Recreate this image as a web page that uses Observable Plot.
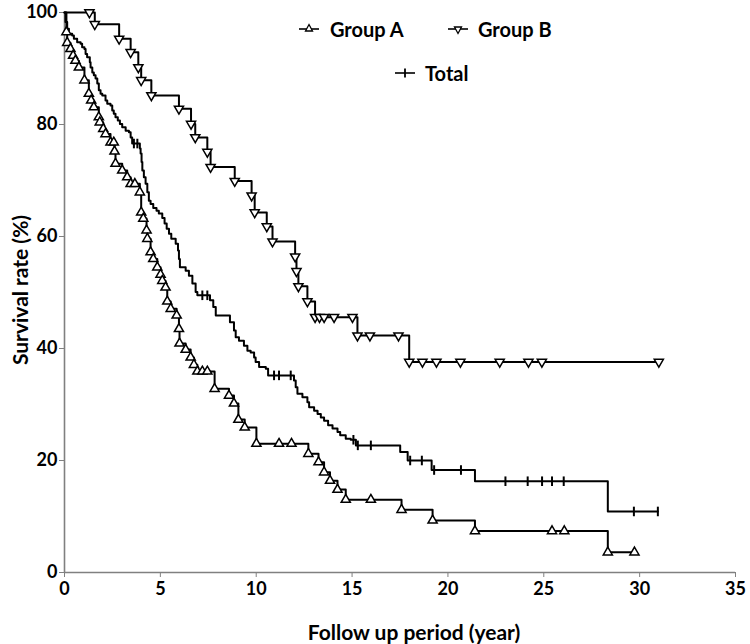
<!DOCTYPE html>
<html>
<head>
<meta charset="utf-8">
<script src="https://cdn.jsdelivr.net/npm/d3@7"></script>
<script src="https://cdn.jsdelivr.net/npm/@observablehq/plot@0.6"></script>
<style>
  body { margin: 0; background: #fff; }
  #wrap { position: relative; width: 750px; height: 644px; font-family: Lato, "Open Sans", sans-serif; font-weight: bold; color: #000; }
  #wrap svg g[aria-label="x-axis tick label"], #wrap svg g[aria-label="y-axis tick label"] { fill: #000; }
  .lab { position: absolute; white-space: nowrap; font-size: 21px; line-height: 1; }
  .leg { position: absolute; white-space: nowrap; font-size: 20px; line-height: 1; }
  .sym { position: absolute; }
</style>
</head>
<body>
<div id="wrap"></div>
<script>
// ---- Data ----
const xTicks = [0, 5, 10, 15, 20, 25, 30, 35];
const yTicks = [0, 20, 40, 60, 80, 100];
const xTitle = "Follow up period (year)";
const yTitle = "Survival rate (%)";
const seriesNames = ["Group A", "Group B", "Total"];

const aTime = [0, 0.1, 0.14, 0.31, 0.45, 0.57, 0.75, 1.04, 1.27, 1.39, 1.53, 1.79, 1.84, 2.02, 2.14, 2.4, 2.57, 2.61, 2.66, 3.01, 3.27, 3.45, 3.67, 3.93, 4.0, 4.11, 4.28, 4.32, 4.49, 4.63, 4.84, 5.01, 5.1, 5.27, 5.36, 5.54, 5.85, 5.97, 6.0, 6.32, 6.58, 6.75, 6.93, 7.19, 7.45, 7.83, 8.58, 8.84, 9.07, 9.4, 10.01, 11.19, 11.84, 12.72, 13.25, 13.54, 13.85, 14.24, 14.67, 15.98, 17.58, 19.2, 21.41, 25.43, 26.07, 28.34, 29.73];
const aSurv = [100, 96.5, 94.6, 93.5, 92.3, 91.4, 90.2, 87.9, 85.5, 84.3, 83.1, 81.3, 80.4, 79.2, 78.3, 76.8, 76.8, 75.2, 73.0, 71.8, 70.6, 69.4, 69.4, 67.9, 64.3, 63.2, 61.1, 59.6, 57.2, 56.0, 54.5, 53.2, 52.1, 50.9, 48.4, 47.1, 45.9, 43.5, 40.9, 39.8, 38.4, 37.1, 35.9, 35.9, 35.9, 32.8, 31.6, 30.2, 27.3, 25.9, 23.0, 23.0, 23.0, 21.2, 19.7, 17.9, 16.4, 14.8, 13.0, 13.0, 11.2, 9.3, 7.4, 7.4, 7.4, 3.6, 3.6];

const bTime = [0, 1.3, 1.58, 2.85, 3.45, 3.85, 4.0, 4.53, 5.97, 6.6, 6.82, 7.45, 7.62, 8.88, 9.76, 9.92, 10.55, 10.85, 12.03, 12.1, 12.2, 12.67, 13.07, 13.3, 13.54, 14.06, 15.02, 15.28, 15.93, 17.42, 17.98, 18.67, 19.4, 20.65, 22.7, 24.2, 24.9, 31.0];
const bSurv = [100, 100, 97.9, 95.3, 92.9, 90.2, 87.9, 85.2, 82.8, 80.1, 77.7, 75.1, 72.4, 69.9, 67.3, 64.3, 61.8, 59.1, 56.4, 53.8, 51.1, 48.4, 45.6, 45.6, 45.6, 45.6, 45.6, 42.3, 42.3, 42.3, 37.6, 37.6, 37.6, 37.6, 37.6, 37.6, 37.6, 37.6];

const tTime = [0, 0.05, 0.14, 0.23, 0.4, 0.49, 0.66, 0.84, 0.92, 1.04, 1.1, 1.18, 1.32, 1.36, 1.45, 1.53, 1.62, 1.71, 1.79, 1.88, 1.97, 2.14, 2.23, 2.4, 2.49, 2.57, 2.66, 2.78, 2.89, 3.01, 3.19, 3.36, 3.45, 3.53, 3.62, 3.8, 3.93, 3.97, 4.02, 4.06, 4.14, 4.23, 4.32, 4.4, 4.49, 4.63, 4.8, 4.92, 5.1, 5.22, 5.33, 5.45, 5.57, 5.8, 5.92, 5.97, 6.02, 6.32, 6.49, 6.67, 6.84, 6.93, 7.19, 7.45, 7.59, 7.76, 7.89, 8.63, 8.84, 8.93, 9.1, 9.36, 9.54, 9.71, 9.89, 9.97, 10.15, 10.5, 10.62, 10.93, 11.19, 11.8, 11.97, 12.06, 12.15, 12.41, 12.67, 12.76, 13.02, 13.2, 13.37, 13.54, 13.75, 13.98, 14.24, 14.38, 14.67, 14.93, 15.07, 15.2, 15.3, 15.98, 17.51, 17.9, 18.03, 18.64, 19.15, 19.28, 20.68, 21.41, 23.0, 24.16, 24.91, 25.43, 26.04, 28.34, 29.7, 30.95];
const tSurv = [100, 98.3, 97.1, 96.2, 95.9, 95.3, 94.7, 94.4, 93.8, 93.5, 92.6, 92.0, 91.1, 90.2, 89.3, 88.8, 88.2, 87.3, 86.1, 85.5, 85.2, 84.3, 83.7, 83.4, 82.5, 81.9, 81.3, 80.7, 80.1, 79.5, 78.9, 78.6, 77.7, 76.6, 76.6, 76.6, 75.7, 74.8, 73.3, 71.8, 70.6, 69.4, 67.9, 66.4, 65.8, 65.1, 64.6, 64.1, 63.3, 62.3, 61.4, 60.5, 59.6, 58.7, 57.5, 56.0, 54.5, 53.9, 53.0, 51.6, 50.1, 49.5, 49.5, 49.5, 48.6, 47.4, 45.9, 44.7, 43.2, 42.0, 41.4, 40.5, 39.6, 39.3, 38.4, 37.6, 36.7, 36.4, 35.2, 35.2, 35.2, 35.2, 34.3, 33.1, 31.9, 31.3, 30.4, 29.5, 28.9, 28.3, 27.7, 27.1, 26.3, 25.7, 25.1, 24.5, 23.9, 23.7, 23.7, 22.7, 22.7, 22.7, 21.5, 20.0, 20.0, 20.0, 18.3, 18.3, 18.3, 16.3, 16.3, 16.3, 16.3, 16.3, 16.3, 10.9, 10.9, 10.9];
const tCens = [0, 0, 0, 0, 0, 0, 0, 0, 0, 0, 0, 0, 0, 0, 0, 0, 0, 0, 0, 0, 0, 0, 0, 0, 0, 0, 0, 0, 0, 0, 0, 0, 0, 0, 1, 1, 0, 0, 0, 0, 0, 0, 0, 0, 0, 0, 0, 0, 0, 0, 0, 0, 0, 0, 0, 0, 0, 0, 0, 0, 0, 0, 1, 1, 0, 0, 0, 0, 0, 0, 0, 0, 0, 0, 0, 0, 0, 0, 0, 1, 1, 1, 0, 0, 0, 0, 0, 0, 0, 0, 0, 0, 0, 0, 0, 0, 0, 0, 1, 0, 1, 1, 0, 0, 1, 1, 0, 1, 1, 0, 1, 1, 1, 1, 1, 0, 1, 1];

// ---- Build tables ----
const rows = (t, s) => t.map((x, i) => ({t: x, s: s[i], i}));
const A = rows(aTime, aSurv);
const B = rows(bTime, bSurv);
const T = tTime.map((x, i) => ({t: x, s: tSurv[i], c: tCens[i]}));

const triDown = {
  draw(ctx, size) {
    const y = Math.sqrt(size / (3 * Math.sqrt(3)));
    ctx.moveTo(0, 2 * y);
    ctx.lineTo(-Math.sqrt(3) * y, -y);
    ctx.lineTo(Math.sqrt(3) * y, -y);
    ctx.closePath();
  }
};
const vTick = {
  draw(ctx, size) {
    const h = Math.sqrt(size);
    ctx.moveTo(0, -h);
    ctx.lineTo(0, h);
  }
};

const axisGray = "#808080";
const chart = Plot.plot({
  width: 750,
  height: 644,
  marginLeft: 64,
  marginRight: 15,
  marginTop: 12,
  marginBottom: 72,
  x: {domain: [0, 35]},
  y: {domain: [0, 100]},
  style: {fontFamily: "Lato, 'Open Sans', sans-serif", fontWeight: "bold", fontSize: "18px", background: "white", overflow: "visible"},
  marks: [
    Plot.axisX({ticks: xTicks, tickSize: 5, tickPadding: 5, color: axisGray, label: null, fontSize: 18, fontWeight: "bold"}),
    Plot.axisY({ticks: yTicks, tickSize: 5, tickPadding: 2, color: axisGray, label: null, fontSize: 18, fontWeight: "bold"}),
    Plot.ruleX([0], {stroke: axisGray, strokeWidth: 1.6}),
    Plot.ruleY([0], {stroke: axisGray, strokeWidth: 1.6}),
    Plot.line(T, {x: "t", y: "s", curve: "step-after", stroke: "#000", strokeWidth: 2}),
    Plot.dot(T.filter(d => d.c === 1), {x: "t", y: "s", symbol: vTick, r: 2.7, stroke: "#000", strokeWidth: 2}),
    Plot.line(A, {x: "t", y: "s", curve: "step-after", stroke: "#000", strokeWidth: 2}),
    Plot.dot(A.filter(d => d.i > 0), {x: "t", y: "s", symbol: "triangle", r: 3.4, fill: "white", stroke: "#000", strokeWidth: 1.5}),
    Plot.line(B, {x: "t", y: "s", curve: "step-after", stroke: "#000", strokeWidth: 2}),
    Plot.dot(B.filter(d => d.i > 0), {x: "t", y: "s", symbol: triDown, r: 3.4, fill: "white", stroke: "#000", strokeWidth: 1.5})
  ]
});

const wrap = document.getElementById("wrap");
wrap.appendChild(chart);

function addDiv(cls, text, css) {
  const d = document.createElement("div");
  d.className = cls;
  d.textContent = text;
  Object.assign(d.style, css);
  wrap.appendChild(d);
  return d;
}
// axis titles
addDiv("lab", xTitle, {left: "414px", top: "631px", transform: "translate(-50%,-50%)"});
addDiv("lab", yTitle, {left: "19px", top: "290px", transform: "translate(-50%,-50%) rotate(-90deg)"});

// legend
function legendSymbol(kind, cx, cy) {
  const ns = "http://www.w3.org/2000/svg";
  const s = document.createElementNS(ns, "svg");
  s.setAttribute("class", "sym");
  s.setAttribute("width", 24);
  s.setAttribute("height", 16);
  s.style.left = (cx - 12) + "px";
  s.style.top = (cy - 8) + "px";
  const ln = document.createElementNS(ns, "line");
  ln.setAttribute("x1", 2); ln.setAttribute("x2", 22);
  ln.setAttribute("y1", 8); ln.setAttribute("y2", 8);
  ln.setAttribute("stroke", "#000"); ln.setAttribute("stroke-width", 1.6);
  s.appendChild(ln);
  const p = document.createElementNS(ns, "path");
  if (kind === "up") p.setAttribute("d", "M12,3.5L15.5,10L8.5,10Z");
  else if (kind === "down") p.setAttribute("d", "M12,12.5L15.5,6L8.5,6Z");
  else p.setAttribute("d", "M12,3.5L12,12.5");
  p.setAttribute("fill", "white");
  p.setAttribute("stroke", "#000");
  p.setAttribute("stroke-width", kind === "tick" ? 1.8 : 1.3);
  s.appendChild(p);
  wrap.appendChild(s);
}
legendSymbol("up", 309, 29);
addDiv("leg", seriesNames[0], {left: "330px", top: "29px", transform: "translateY(-50%)"});
legendSymbol("down", 458, 29);
addDiv("leg", seriesNames[1], {left: "478px", top: "29px", transform: "translateY(-50%)"});
legendSymbol("tick", 405, 73);
addDiv("leg", seriesNames[2], {left: "425px", top: "73px", transform: "translateY(-50%)"});
</script>
</body>
</html>
